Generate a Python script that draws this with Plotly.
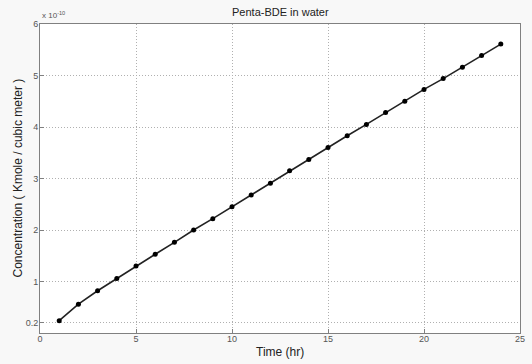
import plotly.graph_objects as go

time_hr = list(range(1, 25))
conc_e10 = [0.24, 0.56, 0.82, 1.06, 1.30, 1.53, 1.76, 2.00, 2.22, 2.45, 2.68, 2.91,
            3.15, 3.37, 3.60, 3.83, 4.05, 4.28, 4.50, 4.73, 4.94, 5.16, 5.39, 5.61]
conc = [v * 1e-10 for v in conc_e10]

x_ticks = [0, 5, 10, 15, 20, 25]
y_tick_labels = ["0.2", "1", "2", "3", "4", "5", "6"]
y_tick_vals = [0.2e-10, 1e-10, 2e-10, 3e-10, 4e-10, 5e-10, 6e-10]

FONT = "Liberation Sans, Arial, sans-serif"

fig = go.Figure()
fig.add_trace(go.Scatter(
    x=time_hr, y=conc, mode="lines+markers",
    line=dict(color="#222222", width=1.6),
    marker=dict(color="#000000", size=5, symbol="circle"),
    showlegend=False,
))

axis_common = dict(
    showline=True, linecolor="#808080", linewidth=1, mirror=True,
    ticks="inside", ticklen=4, tickcolor="#808080",
    showgrid=True, gridcolor="#b0b0b0", griddash="1px,2px", gridwidth=1,
    zeroline=False,
    tickfont=dict(family=FONT, size=9, color="#555555"),
)

fig.update_layout(
    width=532, height=364,
    margin=dict(l=40, r=7, t=24, b=31),
    paper_bgcolor="#f8f8f8", plot_bgcolor="#ffffff",
    xaxis=dict(range=[0, 25], tickvals=x_ticks, ticklabelstandoff=-3, **axis_common),
    yaxis=dict(range=[0, 6e-10], tickvals=y_tick_vals, ticktext=y_tick_labels,
               ticklabelstandoff=-1, **axis_common),
)

fig.add_annotation(
    text="Penta-BDE in water", xref="paper", yref="paper", x=0.5, y=1.0, yshift=12,
    xanchor="center", yanchor="middle", showarrow=False,
    font=dict(family=FONT, size=11, color="#222222"),
)
fig.add_annotation(
    text="Time (hr)", xref="paper", yref="paper", x=0.5, y=0.0, yshift=-19,
    xanchor="center", yanchor="middle", showarrow=False,
    font=dict(family=FONT, size=12, color="#222222"),
)
fig.add_annotation(
    text="Concentration ( Kmole / cubic meter )", xref="paper", yref="paper",
    x=0.0, y=0.5, xshift=-23, textangle=-90,
    xanchor="center", yanchor="middle", showarrow=False,
    font=dict(family=FONT, size=12, color="#222222"),
)
fig.add_annotation(
    text="x 10<sup>-10</sup>", xref="paper", yref="paper", x=0.0, y=1.0, yshift=2,
    xanchor="left", yanchor="bottom", showarrow=False,
    font=dict(family=FONT, size=8, color="#555555"),
)

fig.write_html("out.html", config={"displayModeBar": False},
               post_script="document.body.style.margin='0';document.body.style.background='#f8f8f8';")
